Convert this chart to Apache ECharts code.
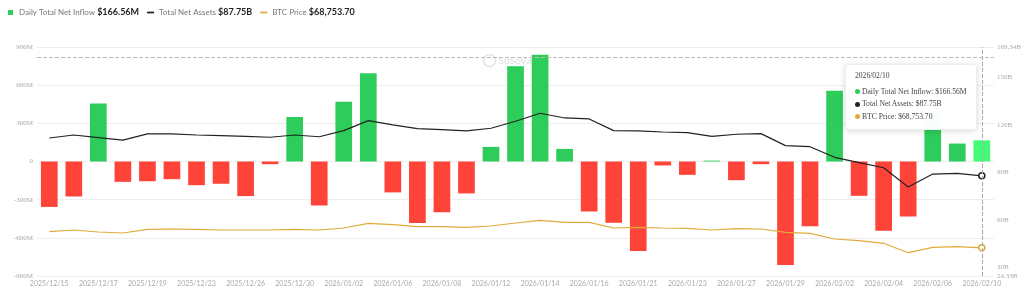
<!DOCTYPE html>
<html><head><meta charset="utf-8">
<script src="https://cdn.jsdelivr.net/npm/echarts@6/dist/echarts.min.js"></script>
<style>html,body{margin:0;padding:0;background:#fff}#c{width:1024px;height:287px}</style>
</head><body><div id="c"></div>
<script>
const dates = ['2025/12/15','2025/12/16','2025/12/17','2025/12/18','2025/12/19','2025/12/22','2025/12/23','2025/12/24','2025/12/26','2025/12/29','2025/12/30','2025/12/31','2026/01/02','2026/01/05','2026/01/06','2026/01/07','2026/01/08','2026/01/09','2026/01/12','2026/01/13','2026/01/14','2026/01/15','2026/01/16','2026/01/20','2026/01/21','2026/01/22','2026/01/23','2026/01/26','2026/01/27','2026/01/28','2026/01/29','2026/01/30','2026/02/02','2026/02/03','2026/02/04','2026/02/05','2026/02/06','2026/02/09','2026/02/10'];
const inflowM = [-357,-275,455,-160,-155,-139,-186,-175,-272,-21,350,-346,469,694,-243,-484,-398,-251,115,748,840,99,-393,-481,-704,-31,-105,7,-147,-21,-814,-508,557,-270,-544,-432,371,141,166.56];
const assetsB = [111.7,113.6,111.9,110.4,114.3,114.3,113.6,113.2,112.8,112.2,113.6,112.5,116.4,122.7,120.0,117.6,117.0,116.2,117.9,122.3,127.4,124.4,123.8,116.4,116.2,115.5,115.1,112.8,114.1,114.5,106.9,106.2,99.5,96.1,92.9,80.7,88.9,89.3,87.75];
const btcPrice = [86360,88220,86030,84940,88980,89310,88980,88220,88220,88220,88980,88220,90400,95530,94000,91820,91820,91170,92590,95860,98810,96630,96630,90400,91170,90400,90060,88220,89640,89310,85700,84620,78390,76540,73700,63440,69330,70000,68753.70];
const leftTicks = [-900,-600,-300,0,300,600,900];
const rightTicks = [24.33,30,60,90,120,150,169.34];

const GREEN='#2ecc5a', GREEN_HI='#3ee56c', RED='#fe4339', BLACK='#222', GOLD='#e0ab3a';
const last = dates.length-1;
const fmtBtc = v => '$' + v.toLocaleString('en-US',{minimumFractionDigits:2,maximumFractionDigits:2});
const names = ['Daily Total Net Inflow','Total Net Assets','BTC Price'];
const legendVals = {
  'Daily Total Net Inflow': '$' + inflowM[last].toFixed(2) + 'M',
  'Total Net Assets': '$' + assetsB[last].toFixed(2) + 'B',
  'BTC Price': fmtBtc(btcPrice[last])
};

const chart = echarts.init(document.getElementById('c'));
const serif = "'Liberation Serif', 'DejaVu Serif', serif";
chart.setOption({
  animation:false,
  legend:{
    left:3, top:3, itemWidth:7, itemHeight:5, itemGap:8,
    data:[
      {name:names[0], icon:'path://M0,0h5v5h-5z'},
      {name:names[1], icon:'path://M0,0h8v2h-8z'},
      {name:names[2], icon:'path://M0,0h8v2h-8z'}
    ],
    formatter: n => n + ' {v|' + legendVals[n] + '}',
    textStyle:{fontFamily:'Lato, sans-serif', fontSize:8, color:'#777',
      rich:{v:{fontFamily:'Lato, sans-serif', fontSize:9, fontWeight:'bold', color:'#222'}}}
  },
  tooltip:{
    trigger:'axis', triggerOn:'none', alwaysShowContent:true,
    position:[845,64],
    backgroundColor:'rgba(255,255,255,0.97)', borderColor:'#eee', borderWidth:1,
    padding:[5,9,6,9],
    extraCssText:'box-shadow:0 1px 6px rgba(0,0,0,0.15);border-radius:3px;',
    axisPointer:{type:'line', lineStyle:{color:'#aaa', type:'dashed', width:1}},
    formatter: params => {
      const i = params[0].dataIndex;
      const dot = c => '<span style="display:inline-block;width:5px;height:5px;border-radius:50%;background:'+c+';margin-right:2px;vertical-align:middle"></span>';
      return '<div style="font-family:'+serif+';font-size:7.6px;color:#444;line-height:12.5px">'
        + '<div style="margin-bottom:3px">'+dates[i]+'</div>'
        + dot(GREEN)+'Daily Total Net Inflow: $'+inflowM[i].toFixed(2)+'M<br>'
        + dot(BLACK)+'Total Net Assets: $'+assetsB[i].toFixed(2)+'B<br>'
        + dot(GOLD)+'BTC Price: '+fmtBtc(btcPrice[i])
        + '</div>';
    }
  },
  grid:{left:37, right:29, top:47, bottom:11, containLabel:false},
  graphic:[{
    type:'group', left:481, top:52, silent:true,
    children:[
      {type:'circle', shape:{cx:6, cy:6, r:6}, style:{fill:'none', stroke:'#e4e4e4', lineWidth:1.5}},
      {type:'text', left:15, top:1, style:{text:'SoSoValue', fill:'#e4e4e4', font:'bold 10px Lato, sans-serif'}}
    ]
  }],
  xAxis:{
    type:'category', data:dates, boundaryGap:true,
    axisLine:{show:false}, axisTick:{show:false},
    axisLabel:{interval:1, fontSize:7, color:'#aaa', margin:4, fontFamily:'Lato, sans-serif'}
  },
  yAxis:[
    {type:'value', min:-900, max:900, interval:300, position:'left',
      axisLine:{show:false}, axisTick:{show:false},
      splitLine:{lineStyle:{color:'#eee'}},
      axisLabel:{fontSize:7, color:'#aaa', margin:4, fontFamily:serif, formatter:v=> v===0?'0':v+'M'}},
    {type:'value', min:rightTicks[0], max:rightTicks[rightTicks.length-1], position:'right',
      axisLine:{show:false}, axisTick:{show:false}, splitLine:{show:false},
      axisLabel:{customValues:rightTicks, fontSize:7, color:'#aaa', margin:3, fontFamily:serif,
        formatter:v=> (Number.isInteger(v)? v : v.toFixed(2)) + 'B'}},
    {type:'value', min:38000, max:288000, show:false}
  ],
  series:[
    {name:names[0], type:'bar', yAxisIndex:0, barWidth:'68%',
      itemStyle:{color:GREEN},
      data: inflowM.map((v,i)=>({value:v, itemStyle:{color: v>=0 ? (i===last?GREEN_HI:GREEN) : RED}})),
      markLine:{silent:true, symbol:'none', label:{show:false},
        lineStyle:{color:'#bbb', type:'dashed', width:1},
        data:[{yAxis:817}]}
    },
    {name:names[1], type:'line', yAxisIndex:1, showSymbol:true, symbol:'none', emphasis:{disabled:true},
      lineStyle:{color:BLACK, width:1.2}, itemStyle:{color:BLACK},
      data: assetsB.map((v,i)=> i===last ? {value:v, symbol:'circle', symbolSize:5, itemStyle:{color:'#fff', borderColor:BLACK, borderWidth:1.5}} : v)
    },
    {name:names[2], type:'line', yAxisIndex:2, showSymbol:true, symbol:'none', emphasis:{disabled:true},
      lineStyle:{color:GOLD, width:1.2}, itemStyle:{color:GOLD},
      data: btcPrice.map((v,i)=> i===last ? {value:v, symbol:'circle', symbolSize:5, itemStyle:{color:'#fff', borderColor:GOLD, borderWidth:1.5}} : v)
    }
  ]
});
chart.dispatchAction({type:'showTip', seriesIndex:0, dataIndex:last});
</script>
</body></html>
